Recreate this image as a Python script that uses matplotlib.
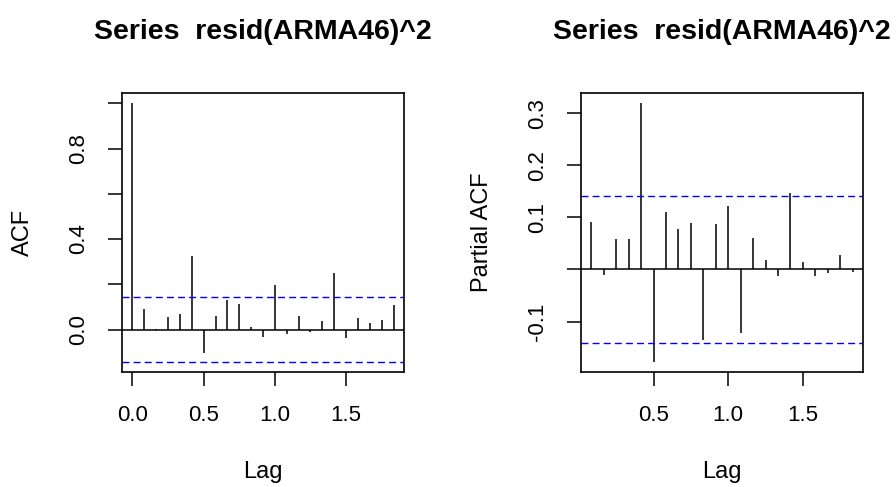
import numpy as np
import matplotlib.pyplot as plt

plt.rcParams["font.family"] = ["Liberation Sans", "DejaVu Sans"]

title = "Series  resid(ARMA46)^2"

# ACF values, lags 0..22 (monthly series, lag in years)
acf_vals = [1.0, 0.089, 0.003, 0.057, 0.070, 0.324, -0.104, 0.062, 0.131,
            0.112, 0.010, -0.031, 0.196, -0.018, 0.062, -0.010, 0.037,
            0.250, -0.037, 0.051, 0.031, 0.043, 0.110]
# PACF values, lags 1..22
pacf_vals = [0.092, -0.010, 0.058, 0.058, 0.319, -0.177, 0.110, 0.078,
             0.090, -0.135, 0.087, 0.121, -0.122, 0.061, 0.018, -0.013,
             0.147, 0.015, -0.013, -0.007, 0.027, -0.005]
clim = 0.142
freq = 12

acf_lags = np.arange(len(acf_vals)) / freq
pacf_lags = np.arange(1, len(pacf_vals) + 1) / freq

fig = plt.figure(figsize=(8.96, 4.87), dpi=100)
W, H = 896, 487


def make_ax(x0, x1, y0, y1):
    return fig.add_axes([x0 / W, 1 - y1 / H, (x1 - x0) / W, (y1 - y0) / H])


def style(ax, lags, vals, ylabel):
    ax.vlines(lags, 0, vals, color="black", lw=1.1)
    ax.axhline(0, color="black", lw=1.1)
    for c in (clim, -clim):
        ax.axhline(c, color="blue", lw=1.0, ls=(0, (5, 3)))
    lo = min(-clim, min(vals))
    hi = max(clim, max(vals))
    pad = (hi - lo) * 0.04
    ax.set_ylim(lo - pad, hi + pad)
    xlo, xhi = lags[0], lags[-1]
    xpad = (xhi - xlo) * 0.04
    ax.set_xlim(xlo - xpad, xhi + xpad)
    for s in ax.spines.values():
        s.set_linewidth(1.2)
    ax.tick_params(direction="out", length=10, width=1.1, labelsize=16,
                   pad=14)
    ax.set_xlabel("Lag", fontsize=17, labelpad=25)
    ax.set_ylabel(ylabel, fontsize=17, labelpad=24)
    ax.set_title(title, fontsize=20.5, fontweight="bold", pad=39)


ax1 = make_ax(122, 404, 93, 372)
style(ax1, acf_lags, acf_vals, "ACF")
ax1.set_xticks([0.0, 0.5, 1.0, 1.5])
ax1.set_xticklabels(["0.0", "0.5", "1.0", "1.5"])
ax1.set_yticks([0.0, 0.2, 0.4, 0.6, 0.8, 1.0])
ax1.set_yticklabels(["0.0", "", "0.4", "", "0.8", ""], rotation=90,
                    va="center")

ax2 = make_ax(581, 863, 93, 372)
style(ax2, pacf_lags, pacf_vals, "Partial ACF")
ax2.set_xticks([0.5, 1.0, 1.5])
ax2.set_xticklabels(["0.5", "1.0", "1.5"])
ax2.set_yticks([-0.1, 0.0, 0.1, 0.2, 0.3])
ax2.set_yticklabels(["-0.1", "", "0.1", "0.2", "0.3"], rotation=90,
                    va="center")

fig.savefig("out.png", dpi=100)
